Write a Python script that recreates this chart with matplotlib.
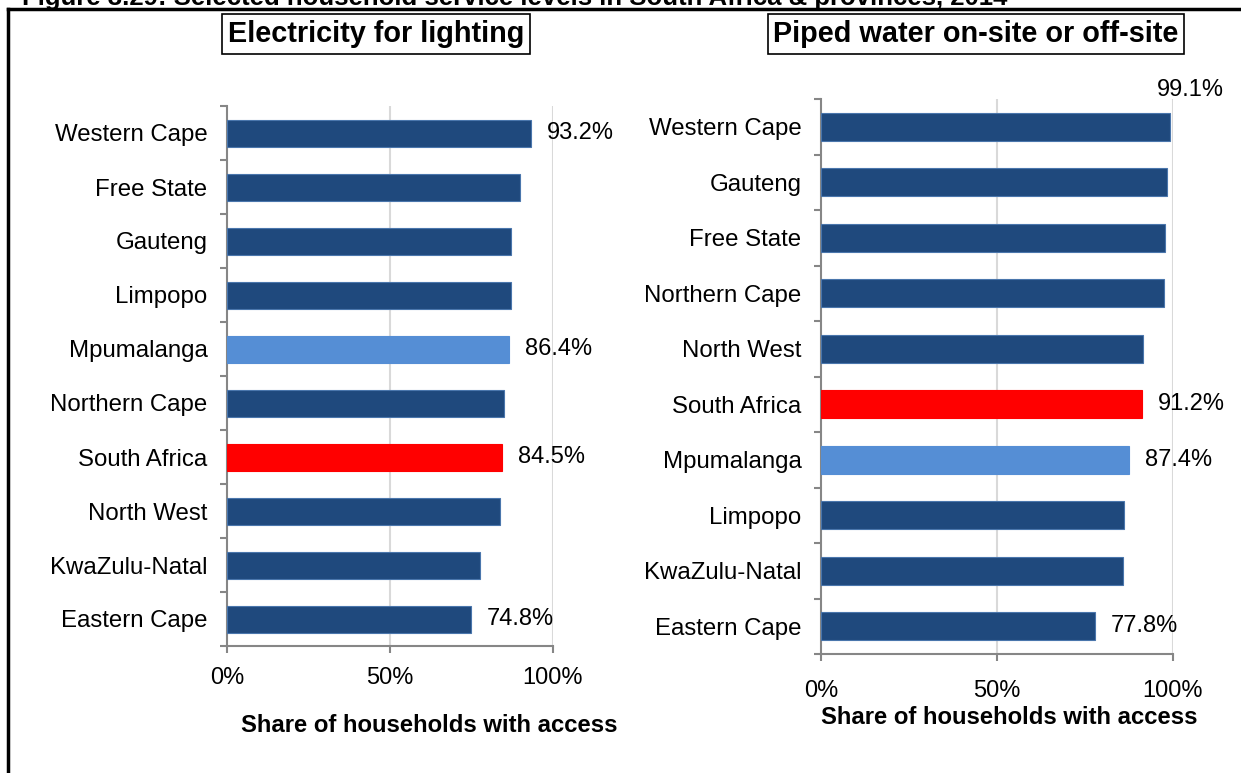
import matplotlib
matplotlib.use('Agg')
from matplotlib import pyplot as plt
from matplotlib.lines import Line2D
import numpy as np

plt.rcParams['font.family'] = ['Liberation Sans', 'DejaVu Sans']

# data
elec_regions = ['Western Cape', 'Free State', 'Gauteng', 'Limpopo', 'Mpumalanga',
                'Northern Cape', 'South Africa', 'North West', 'KwaZulu-Natal', 'Eastern Cape']
elec_values = [93.2, 89.8, 87.0, 87.1, 86.4, 85.0, 84.5, 83.6, 77.6, 74.8]
elec_labelled = ['Western Cape', 'Mpumalanga', 'South Africa', 'Eastern Cape']

water_regions = ['Western Cape', 'Gauteng', 'Free State', 'Northern Cape', 'North West',
                 'South Africa', 'Mpumalanga', 'Limpopo', 'KwaZulu-Natal', 'Eastern Cape']
water_values = [99.1, 98.2, 97.8, 97.4, 91.6, 91.2, 87.4, 86.0, 85.8, 77.8]
water_labelled = ['Western Cape', 'South Africa', 'Mpumalanga', 'Eastern Cape']

x_ticks = [0, 50, 100]
x_ticklabels = ['0%', '50%', '100%']

DARK = '#1F497D'
LIGHT = '#558ED5'
RED = '#FF0000'
AXIS_GREY = '#868686'
GRID_GREY = '#D9D9D9'

W, H = 1241, 773
fig = plt.figure(figsize=(W / 100, H / 100), dpi=100)


def px_axes(x0, y0, x1, y1):
    # pixel box (top-left origin) -> figure fraction
    return fig.add_axes([x0 / W, 1 - y1 / H, (x1 - x0) / W, (y1 - y0) / H])


def bar_colour(name):
    if name == 'South Africa':
        return RED
    if name == 'Mpumalanga':
        return LIGHT
    return DARK


def draw_panel(ax, regions, values, labelled, xpad, special=None):
    n = len(regions)
    y = np.arange(n)[::-1]
    cols = [bar_colour(r) for r in regions]
    edges = ['#4A76AC' if c == DARK else c for c in cols]
    ax.barh(y, values, height=0.5, color=cols, edgecolor=edges, linewidth=0.8, zorder=3)
    ax.set_ylim(-0.5, n - 0.5)
    ax.set_xlim(0, 100)

    for s in ['top', 'right']:
        ax.spines[s].set_visible(False)
    for s in ['left', 'bottom']:
        ax.spines[s].set_color(AXIS_GREY)
        ax.spines[s].set_linewidth(1.5)

    ax.set_yticks(y)
    ax.set_yticklabels(regions, fontsize=17.3)
    ax.tick_params(axis='y', which='major', length=0, pad=14)
    ax.set_yticks(np.arange(n + 1) - 0.5, minor=True)
    ax.tick_params(axis='y', which='minor', length=5, width=1.5, color=AXIS_GREY)

    ax.set_xticks(x_ticks)
    ax.set_xticklabels(x_ticklabels, fontsize=17)
    ax.tick_params(axis='x', length=5, width=1.5, color=AXIS_GREY, pad=10)
    ax.tick_params(axis='x', pad=xpad)

    for xv in x_ticks[1:]:
        ax.axvline(xv, color=GRID_GREY, lw=1.5, zorder=1)

    for r, v, yy in zip(regions, values, y):
        if r not in labelled:
            continue
        if special == r:
            ax.annotate(f'{v:.1f}%', xy=(v, yy), xytext=(-13, 37),
                        textcoords='offset pixels', fontsize=17, va='center', ha='left')
        else:
            ax.annotate(f'{v:.1f}%', xy=(v, yy), xytext=(16, 0),
                        textcoords='offset pixels', fontsize=17, va='center', ha='left')


ax1 = px_axes(227, 106, 553, 646)
draw_panel(ax1, elec_regions, elec_values, elec_labelled, xpad=10)

ax2 = px_axes(821, 99, 1173, 654)
draw_panel(ax2, water_regions, water_values, water_labelled, xpad=14, special='Western Cape')

# panel titles
fig.text(376 / W, 1 - 34 / H, 'Electricity for lighting', fontsize=20.8, fontweight='bold',
         ha='center', va='center',
         bbox=dict(boxstyle='square,pad=0.2', fc='white', ec='black', lw=1.2))
fig.text(976 / W, 1 - 34 / H, 'Piped water on-site or off-site', fontsize=20.8, fontweight='bold',
         ha='center', va='center',
         bbox=dict(boxstyle='square,pad=0.2', fc='white', ec='black', lw=1.2))

# axis titles
fig.text(429 / W, 1 - 725 / H, 'Share of households with access', fontsize=17.2,
         fontweight='bold', ha='center', va='center')
fig.text(1009 / W, 1 - 718 / H, 'Share of households with access', fontsize=17.2,
         fontweight='bold', ha='center', va='center')

# cropped figure heading and frame
fig.text(22 / W, 1 - 5 / H, 'Figure 3.29: Selected household service levels in South Africa & provinces, 2014',
         fontsize=18.5, fontweight='bold', ha='left', va='baseline')
fig.add_artist(Line2D([8 / W, 1], [1 - 9 / H, 1 - 9 / H], color='black', lw=2.5,
                      transform=fig.transFigure))
fig.add_artist(Line2D([8 / W, 8 / W], [0, 1 - 9 / H], color='black', lw=2.5,
                      transform=fig.transFigure))

fig.savefig('out.png', dpi=100)
